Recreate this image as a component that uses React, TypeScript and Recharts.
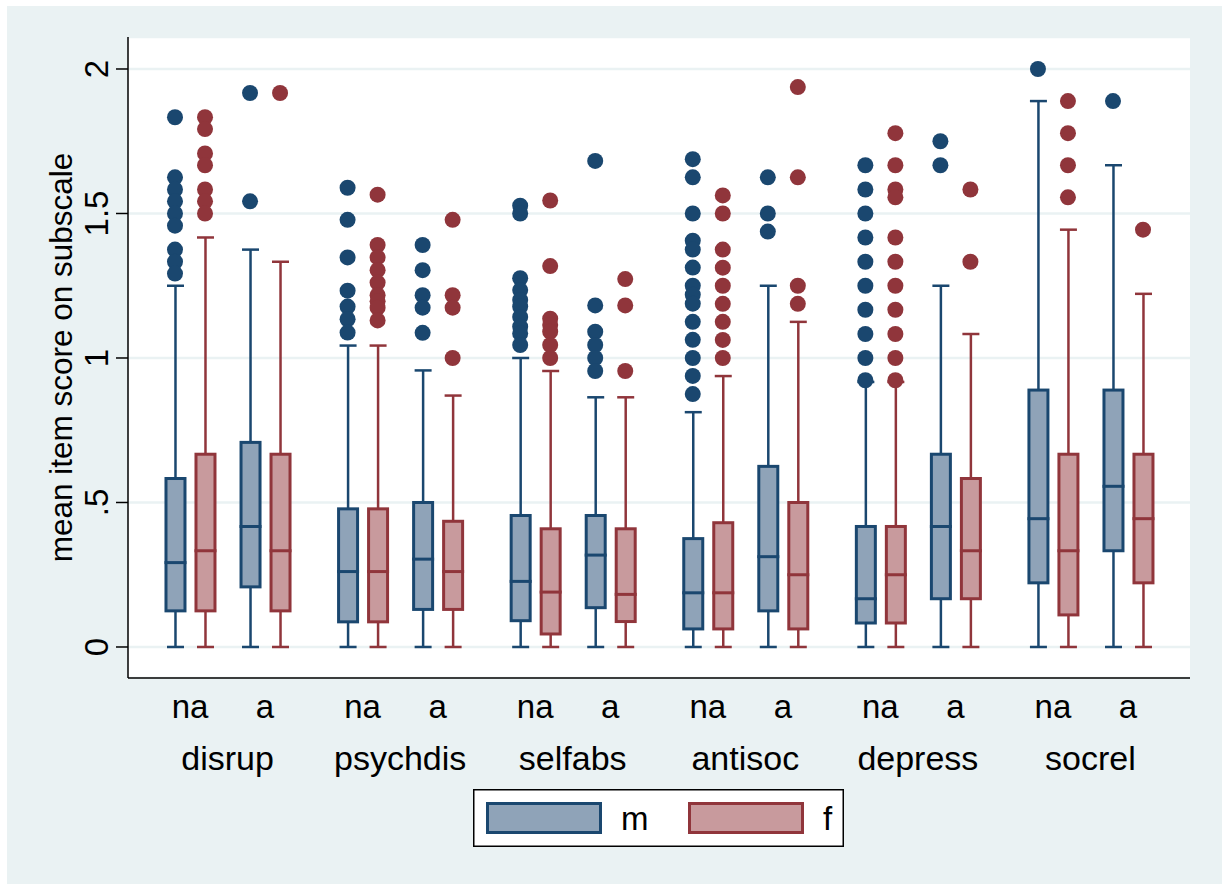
import React from 'react';
import { ComposedChart, Bar, Scatter, XAxis, YAxis, CartesianGrid, Legend } from 'recharts';

// ---------- data ----------
const subscales = ['disrup', 'psychdis', 'selfabs', 'antisoc', 'depress', 'socrel'];
const statuses = ['na', 'a'];
const sexNames = ['m', 'f'];
const yTicks = [0, 0.5, 1, 1.5, 2];
const yTickLabels = ['0', '.5', '1', '1.5', '2'];

// box order: disrup-na, disrup-a, psychdis-na, psychdis-a, selfabs-na, selfabs-a,
//            antisoc-na, antisoc-a, depress-na, depress-a, socrel-na, socrel-a
const mLow = [0, 0, 0, 0, 0, 0, 0, 0, 0, 0, 0, 0];
const mQ1 = [0.125, 0.208, 0.087, 0.13, 0.091, 0.136, 0.0625, 0.125, 0.083, 0.167, 0.222, 0.333];
const mMedian = [0.292, 0.417, 0.261, 0.304, 0.227, 0.318, 0.1875, 0.3125, 0.167, 0.417, 0.444, 0.556];
const mQ3 = [0.583, 0.708, 0.478, 0.5, 0.455, 0.455, 0.375, 0.625, 0.417, 0.667, 0.889, 0.889];
const mHigh = [1.25, 1.375, 1.043, 0.957, 1.0, 0.864, 0.8125, 1.25, 0.917, 1.25, 1.889, 1.667];

const fLow = [0, 0, 0, 0, 0, 0, 0, 0, 0, 0, 0, 0];
const fQ1 = [0.125, 0.125, 0.087, 0.13, 0.045, 0.088, 0.0625, 0.0625, 0.083, 0.167, 0.111, 0.222];
const fMedian = [0.333, 0.333, 0.261, 0.261, 0.19, 0.182, 0.1875, 0.25, 0.25, 0.333, 0.333, 0.444];
const fQ3 = [0.667, 0.667, 0.478, 0.435, 0.409, 0.409, 0.43, 0.5, 0.417, 0.583, 0.667, 0.667];
const fHigh = [1.417, 1.333, 1.043, 0.87, 0.955, 0.864, 0.9375, 1.125, 0.917, 1.083, 1.444, 1.222];

const mOutliers = [
  [1.833, 1.625, 1.583, 1.542, 1.5, 1.458, 1.375, 1.333, 1.292],
  [1.917, 1.542],
  [1.589, 1.478, 1.348, 1.233, 1.178, 1.134, 1.088],
  [1.391, 1.304, 1.217, 1.174, 1.087],
  [1.527, 1.5, 1.276, 1.235, 1.201, 1.178, 1.142, 1.108, 1.085, 1.045],
  [1.682, 1.182, 1.091, 1.045, 1.0, 0.955],
  [1.688, 1.625, 1.5, 1.406, 1.375, 1.313, 1.25, 1.219, 1.188, 1.125, 1.063, 1.0, 0.938, 0.875],
  [1.625, 1.5, 1.4375],
  [1.667, 1.583, 1.5, 1.417, 1.333, 1.25, 1.167, 1.083, 1.0, 0.923],
  [1.75, 1.667],
  [2.0],
  [1.889],
];
const fOutliers = [
  [1.833, 1.792, 1.708, 1.667, 1.583, 1.542, 1.5],
  [1.917],
  [1.565, 1.391, 1.348, 1.304, 1.261, 1.217, 1.196, 1.174, 1.13],
  [1.478, 1.217, 1.174, 1.0],
  [1.545, 1.318, 1.136, 1.114, 1.091, 1.045, 1.0],
  [1.273, 1.182, 0.955],
  [1.5625, 1.5, 1.375, 1.3125, 1.25, 1.1875, 1.125, 1.0625, 1.0],
  [1.9375, 1.625, 1.25, 1.1875],
  [1.778, 1.667, 1.583, 1.556, 1.417, 1.333, 1.25, 1.167, 1.083, 1.0, 0.923],
  [1.583, 1.333],
  [1.889, 1.778, 1.667, 1.556],
  [1.444],
];

// ---------- style ----------
const FONT = 'Liberation Sans, Arial, Helvetica, sans-serif';
const M_STROKE = '#1A476F';
const M_FILL = '#8FA3B8';
const F_STROKE = '#90353B';
const F_FILL = '#C89A9D';
const BG = '#EAF2F3';
const SEX_STYLE: Record<string, { stroke: string; fill: string }> = {
  m: { stroke: M_STROKE, fill: M_FILL },
  f: { stroke: F_STROKE, fill: F_FILL },
};

// layout in x units (group = 23 units; na/a rows 10 apart; m/f 4 apart)
const GROUP_W = 23;
const X_MIN = -6.263;
const X_MAX = 135.263;

const rows = subscales.flatMap((g, gi) =>
  statuses.map((s, si) => {
    const i = gi * 2 + si;
    return {
      x: gi * GROUP_W + 2 + si * 10,
      label: s,
      m: { lo: mLow[i], q1: mQ1[i], med: mMedian[i], q3: mQ3[i], hi: mHigh[i] },
      f: { lo: fLow[i], q1: fQ1[i], med: fMedian[i], q3: fQ3[i], hi: fHigh[i] },
      mRange: [mLow[i], mHigh[i]],
      fRange: [fLow[i], fHigh[i]],
    };
  })
);
const rowXs = rows.map((r) => r.x);
const groupXs = subscales.map((_, gi) => gi * GROUP_W + 7);

const mOutPts = rows.flatMap((r, i) => mOutliers[i].map((v) => ({ x: r.x - 2, y: v })));
const fOutPts = rows.flatMap((r, i) => fOutliers[i].map((v) => ({ x: r.x + 2, y: v })));

// ---------- shapes ----------
function makeBoxShape(sex: 'm' | 'f') {
  const { stroke, fill } = SEX_STYLE[sex];
  return (props: any) => {
    const { x, y, width, height, payload } = props;
    if (x == null || y == null || !payload) return <g />;
    const s = payload[sex];
    const top = Math.min(y, y + height);
    const h = Math.abs(height);
    const ppu = h / (s.hi - s.lo);
    const py = (v: number) => top + (s.hi - v) * ppu;
    const cx = x + width / 2;
    const cap = 8.5;
    return (
      <g>
        <line x1={cx} x2={cx} y1={py(s.hi)} y2={py(s.q3)} stroke={stroke} strokeWidth={2.5} />
        <line x1={cx} x2={cx} y1={py(s.q1)} y2={py(s.lo)} stroke={stroke} strokeWidth={2.5} />
        <line x1={cx - cap} x2={cx + cap} y1={py(s.hi)} y2={py(s.hi)} stroke={stroke} strokeWidth={2.5} />
        <line x1={cx - cap} x2={cx + cap} y1={py(s.lo)} y2={py(s.lo)} stroke={stroke} strokeWidth={2.5} />
        <rect
          x={x + 1.5}
          y={py(s.q3)}
          width={width - 3}
          height={py(s.q1) - py(s.q3)}
          fill={fill}
          stroke={stroke}
          strokeWidth={3}
        />
        <line x1={x} x2={x + width} y1={py(s.med)} y2={py(s.med)} stroke={stroke} strokeWidth={3} />
      </g>
    );
  };
}
const mBoxShape = makeBoxShape('m');
const fBoxShape = makeBoxShape('f');

const dotShape = (props: any) => {
  const { cx, cy, fill } = props;
  if (cx == null || cy == null) return <g />;
  return <circle cx={cx} cy={cy} r={8} fill={fill} />;
};

// ---------- ticks / labels ----------
const YTick = (props: any) => {
  const { x, y, payload } = props;
  const idx = yTicks.indexOf(payload.value);
  const text = idx >= 0 ? yTickLabels[idx] : String(payload.value);
  return (
    <text
      x={x}
      y={y}
      transform={`rotate(-90, ${x}, ${y})`}
      textAnchor="middle"
      fontSize={33}
      fontFamily={FONT}
      fill="#000"
    >
      {text}
    </text>
  );
};

const XTick = (props: any) => {
  const { x, y, payload } = props;
  const row = rows.find((r) => Math.abs(r.x - payload.value) < 1e-6);
  return (
    <text x={x} y={y + 40} textAnchor="middle" fontSize={33} fontFamily={FONT} fill="#000">
      {row ? row.label : ''}
    </text>
  );
};

const GroupTick = (props: any) => {
  const { x, y, payload } = props;
  const gi = groupXs.findIndex((g) => Math.abs(g - payload.value) < 1e-6);
  return (
    <text x={x} y={y + 37} textAnchor="middle" fontSize={34} fontFamily={FONT} fill="#000">
      {gi >= 0 ? subscales[gi] : ''}
    </text>
  );
};

const YTitle = (props: any) => {
  const vb = props.viewBox || {};
  const x = (vb.x ?? 68) + 4;
  const y = (vb.y ?? 37) + (vb.height ?? 641) / 2;
  return (
    <text
      x={x}
      y={y}
      transform={`rotate(-90, ${x}, ${y})`}
      textAnchor="middle"
      fontSize={31.5}
      fontFamily={FONT}
      fill="#000"
    >
      mean item score on subscale
    </text>
  );
};

const LegendContent = (props: any) => {
  const payload = (props.payload || [])
    .filter((p: any) => sexNames.includes(p.value))
    .slice()
    .sort((a: any, b: any) => sexNames.indexOf(a.value) - sexNames.indexOf(b.value));
  return (
    <svg width={371} height={58} style={{ display: 'block' }}>
      <rect x={0.75} y={0.75} width={369.5} height={56.5} fill="#fff" stroke="#000" strokeWidth={1.5} />
      {payload.map((p: any, i: number) => {
        const st = SEX_STYLE[p.value];
        const ox = 13 + i * 202;
        return (
          <g key={p.value}>
            <rect x={ox + 1.5} y={14.5} width={113} height={29} fill={st.fill} stroke={st.stroke} strokeWidth={3} />
            <text x={ox + 135} y={41} fontSize={33} fontFamily={FONT} fill="#000">
              {p.value}
            </text>
          </g>
        );
      })}
    </svg>
  );
};

export default function App() {
  return (
    <div style={{ position: 'absolute', left: 0, top: 0, width: 1231, height: 884, background: '#fff' }}>
      <div style={{ position: 'absolute', left: 7, top: 6, width: 1215, height: 878, background: BG }} />
      <div style={{ position: 'absolute', left: 0, top: 0 }}>
        <ComposedChart
          width={1231}
          height={884}
          data={rows}
          margin={{ top: 37, right: 41, left: 68, bottom: 101 }}
          barGap={8}
        >
          <CartesianGrid vertical={false} stroke={BG} strokeWidth={2.5} fill="#fff" />
          <XAxis
            dataKey="x"
            type="number"
            domain={[X_MIN, X_MAX]}
            allowDataOverflow
            ticks={rowXs}
            interval={0}
            tick={<XTick />}
            tickLine={false}
            tickSize={0}
            tickMargin={0}
            axisLine={{ stroke: '#000', strokeWidth: 1.5 }}
            height={55}
          />
          <XAxis
            xAxisId="grp"
            dataKey="x"
            type="number"
            domain={[X_MIN, X_MAX]}
            allowDataOverflow
            ticks={groupXs}
            interval={0}
            tick={<GroupTick />}
            tickLine={false}
            tickSize={0}
            tickMargin={0}
            axisLine={false}
            height={50}
          />
          <YAxis
            type="number"
            domain={[-0.1073, 2.1107]}
            allowDataOverflow
            ticks={yTicks}
            interval={0}
            width={60}
            tickSize={12}
            tickMargin={8}
            tick={<YTick />}
            tickLine={{ stroke: '#000', strokeWidth: 1.5 }}
            axisLine={{ stroke: '#000', strokeWidth: 1.5 }}
            label={YTitle}
          />
          <Bar
            dataKey="mRange"
            name="m"
            fill={M_FILL}
            stroke={M_STROKE}
            barSize={22}
            shape={mBoxShape}
            isAnimationActive={false}
          />
          <Bar
            dataKey="fRange"
            name="f"
            fill={F_FILL}
            stroke={F_STROKE}
            barSize={22}
            shape={fBoxShape}
            isAnimationActive={false}
          />
          <Scatter
            xAxisId="grp"
            data={mOutPts}
            dataKey="y"
            name="m outliers"
            fill={M_STROKE}
            shape={dotShape}
            legendType="none"
            isAnimationActive={false}
          />
          <Scatter
            xAxisId="grp"
            data={fOutPts}
            dataKey="y"
            name="f outliers"
            fill={F_STROKE}
            shape={dotShape}
            legendType="none"
            isAnimationActive={false}
          />
          <Legend
            layout="horizontal"
            verticalAlign="middle"
            align="center"
            content={LegendContent}
            wrapperStyle={{ position: 'absolute', left: 473, top: 789, width: 371, height: 58 }}
          />
        </ComposedChart>
      </div>
    </div>
  );
}
